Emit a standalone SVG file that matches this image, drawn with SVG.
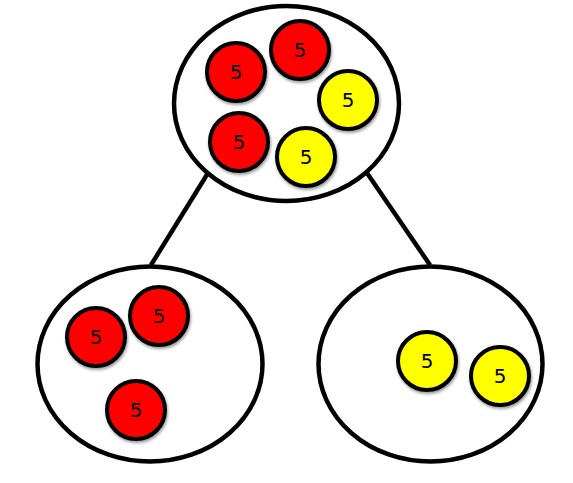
<svg xmlns="http://www.w3.org/2000/svg" width="573" height="483" viewBox="0 0 573 483">
<defs>
<filter id="sh" x="-30%" y="-30%" width="160%" height="160%">
<feGaussianBlur in="SourceAlpha" stdDeviation="1.5"/>
<feOffset dx="1" dy="2" result="b"/>
<feComponentTransfer><feFuncA type="linear" slope="0.4"/></feComponentTransfer>
<feMerge><feMergeNode/><feMergeNode in="SourceGraphic"/></feMerge>
</filter>
</defs>
<style>
.set{fill:#fff;stroke:#000;stroke-width:4.5}
.edge{stroke:#000;stroke-width:4.5;fill:none}
.red{fill:#ff0000;stroke:#000;stroke-width:4;filter:url(#sh)}
.yel{fill:#ffff00;stroke:#000;stroke-width:4;filter:url(#sh)}
.t{font-family:"DejaVu Sans","Liberation Sans",sans-serif;font-size:20px;fill:#000;text-anchor:middle;dominant-baseline:central}
</style>
<rect width="573" height="483" fill="#fff"/>
<g id="connectors">
<line class="edge" x1="208" y1="173" x2="151" y2="265"/>
<line class="edge" x1="367" y1="173" x2="430" y2="265"/>
</g>
<g id="top">
<ellipse class="set" cx="286.5" cy="103.5" rx="112.5" ry="97.5"/>
<circle class="red" cx="236" cy="72" r="29"/><text class="t" x="236" y="72">5</text>
<circle class="red" cx="300" cy="50" r="29"/><text class="t" x="300" y="50">5</text>
<circle class="yel" cx="348" cy="100" r="29"/><text class="t" x="348" y="100">5</text>
<circle class="red" cx="239" cy="142" r="29"/><text class="t" x="239" y="142">5</text>
<circle class="yel" cx="306" cy="157" r="29"/><text class="t" x="306" y="157">5</text>
</g>
<g id="left">
<ellipse class="set" cx="150" cy="364" rx="112.5" ry="97.5"/>
<circle class="red" cx="96" cy="337" r="29"/><text class="t" x="96" y="337">5</text>
<circle class="red" cx="159" cy="316" r="29"/><text class="t" x="159" y="316">5</text>
<circle class="red" cx="136" cy="410" r="29"/><text class="t" x="136" y="410">5</text>
</g>
<g id="right">
<ellipse class="set" cx="430.5" cy="364" rx="112" ry="97.5"/>
<circle class="yel" cx="427" cy="361" r="29"/><text class="t" x="427" y="361">5</text>
<circle class="yel" cx="500" cy="376" r="29"/><text class="t" x="500" y="376">5</text>
</g>
</svg>
